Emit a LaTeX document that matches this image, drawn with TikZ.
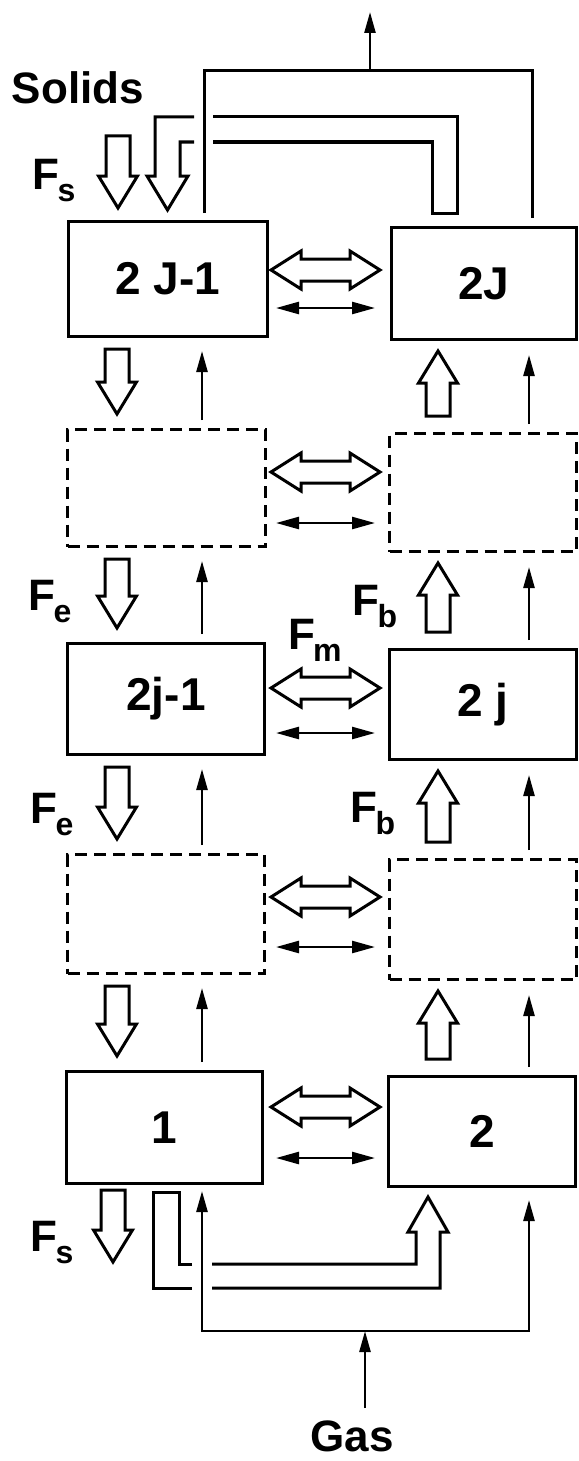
\documentclass[tikz,border=0pt]{standalone}
\usepackage{fontspec}
\setmainfont{Liberation Sans}
\usetikzlibrary{calc,arrows.meta}

\tikzset{
  cell/.style={draw, line width=3pt, inner sep=0pt, anchor=north west,
    font=\fontsize{46}{46}\selectfont\bfseries},
  dcell/.style={cell, dash pattern=on 12pt off 7pt},
  lab/.style={inner sep=0pt, font=\fontsize{44}{44}\selectfont\bfseries},
  pipe/.style={line width=3pt, line join=miter},
  hollowline/.style={line width=3pt, line join=miter, fill=white},
  flow/.style={line width=2.5pt, -{Triangle[length=21pt,width=11pt]}},
  flowboth/.style={line width=2.5pt, {Triangle[length=21pt,width=11pt]}-{Triangle[length=21pt,width=11pt]}},
  swap/.style={line width=2.5pt, {Triangle[length=23pt,width=12pt]}-{Triangle[length=23pt,width=12pt]}},
}

% hollow single arrow from #1 (tail) to #2 (tip)
\newcommand\hollowarrow[2]{%
  \path (#1) coordinate (hs) (#2) coordinate (ht);
  \path ($(ht)!32pt!(hs)$) coordinate (hb);
  \draw[hollowline] ($(hs)!12pt!90:(ht)$) -- ($(hb)!12pt!90:(ht)$)
    -- ($(hb)!19.5pt!90:(ht)$) -- (ht) -- ($(hb)!19.5pt!-90:(ht)$)
    -- ($(hb)!12pt!-90:(ht)$) -- ($(hs)!12pt!-90:(ht)$) -- cycle;}

% hollow double-headed arrow between #1 and #2
\newcommand\hollowdouble[2]{%
  \path (#1) coordinate (da) (#2) coordinate (db);
  \path ($(da)!30pt!(db)$) coordinate (d1) ($(db)!30pt!(da)$) coordinate (d2);
  \draw[hollowline] (da) -- ($(d1)!19pt!90:(db)$) -- ($(d1)!11pt!90:(db)$)
    -- ($(d2)!11pt!-90:(da)$) -- ($(d2)!19pt!-90:(da)$) -- (db)
    -- ($(d2)!19pt!90:(da)$) -- ($(d2)!11pt!90:(da)$)
    -- ($(d1)!11pt!-90:(db)$) -- ($(d1)!19pt!-90:(db)$) -- cycle;}

\newcommand\Fsub[1]{F\kern-2pt\raisebox{-12pt}{\fontsize{32}{32}\selectfont #1}}

\begin{document}
\begin{tikzpicture}[x=1pt, y=-1pt]
\useasboundingbox (0,0) rectangle (578,1461);

% stages
\node[cell,  minimum width=199pt, minimum height=115pt] (L1) at (67,220)  {2 J-1};
\node[cell,  minimum width=185pt, minimum height=112pt] (R1) at (390,226) {2J};
\node[dcell, minimum width=198pt, minimum height=117pt] (L2) at (66,428)  {};
\node[dcell, minimum width=187pt, minimum height=118pt] (R2) at (388,432) {};
\node[cell,  minimum width=197pt, minimum height=111pt] (L3) at (66,642)  {2j-1};
\node[cell,  minimum width=187pt, minimum height=110pt] (R3) at (388,648) {2 j};
\node[dcell, minimum width=197pt, minimum height=119pt] (L4) at (66,853)  {};
\node[dcell, minimum width=187pt, minimum height=120pt] (R4) at (388,858) {};
\node[cell,  minimum width=196pt, minimum height=112pt] (L5) at (65,1070) {1};
\node[cell,  minimum width=187pt, minimum height=110pt] (R5) at (387,1075) {2};

% columns of the vertical streams
\coordinate (fl) at (117,0);
\coordinate (gl) at (202,0);
\coordinate (fr) at (438,0);
\coordinate (gr) at (529,0);

% labels
\node[lab] (solids) at (78,88) {Solids};
\node[lab] (fs1) at (54,181) {\Fsub{s}};
\node[lab] (fe1) at (50,602) {\Fsub{e}};
\node[lab] (fb1) at (375,607) {\Fsub{b}};
\node[lab] (fm)  at (315,640) {\Fsub{m}};
\node[lab] (fe2) at (52,815) {\Fsub{e}};
\node[lab] (fb2) at (373,814) {\Fsub{b}};
\node[lab] (fs2) at (52,1243) {\Fsub{s}};
\node[lab] (gas) at (352,1436) {Gas};

% exchange between neighbouring stages
\hollowdouble{271,270}{380,270}
\hollowdouble{271,472}{380,472}
\hollowdouble{271,688}{380,688}
\hollowdouble{271,897}{380,897}
\hollowdouble{271,1107}{380,1107}
\draw[swap] (276,308) -- (375,308);
\draw[swap] (276,523) -- (375,523);
\draw[swap] (276,733) -- (375,733);
\draw[swap] (276,947) -- (375,947);
\draw[swap] (276,1158) -- (375,1158);

% gas rising through the stages
\foreach \a/\b in {L2/L1, L3/L2, L4/L3, L5/L4}
  \draw[flow] ($(\a.north -| gl)+(0,-8)$) -- ($(\b.south -| gl)+(0,13)$);
\foreach \a/\b in {R2/R1, R3/R2, R4/R3, R5/R4}
  \draw[flow] ($(\a.north -| gr)+(0,-8)$) -- ($(\b.south -| gr)+(0,14)$);

% solids moving down the left column and up the right column
\foreach \a/\b in {L1/L2, L2/L3, L3/L4, L4/L5}
  \hollowarrow{$(\a.south -| fl)+(0,11)$}{$(\b.north -| fl)+(0,-14)$};
\foreach \a/\b in {R2/R1, R3/R2, R4/R3, R5/R4}
  \hollowarrow{$(\a.north -| fr)+(0,-16)$}{$(\b.south -| fr)+(0,10)$};

% solids feed and discharge
\hollowarrow{118,136}{118,208}
\hollowarrow{113,1190}{113,1262}

% gas collected at the top
\coordinate (gasout) at (370,71);
\draw[pipe] ($(L1.north -| gl)+(2,-7)$) |- (gasout) -| ($(R1.north -| gr)+(3,-8)$);
\draw[flow] (gasout) -- (370,12);

% gas supplied at the bottom
\coordinate (gasin) at (365,1331);
\draw[flow] (365,1408) -- (gasin);
\draw[flowboth] ($(L5.south -| gl)+(0,6)$) |- (gasin) -| ($(R5.south -| gr)+(0,12)$);

% solids recycled from stage 2J back to stage 2J-1
\draw[pipe] (194,117) -- (155,117) -- (155,176) -- (147,176) -- (167.5,210)
  -- (188,176) -- (180,176) -- (180,142) -- (194,142);
\draw[pipe] (213,117) -- (457,117) -- (457,213) -- (432,213) -- (432,142) -- (213,142);

% solids carried from stage 1 to stage 2
\draw[pipe] (192,1264) -- (179,1264) -- (179,1192) -- (153,1192) -- (153,1288) -- (192,1288);
\draw[pipe] (212,1264) -- (416,1264) -- (416,1232) -- (408,1232) -- (428,1197)
  -- (448,1232) -- (440,1232) -- (440,1288) -- (212,1288);
\end{tikzpicture}
\end{document}
